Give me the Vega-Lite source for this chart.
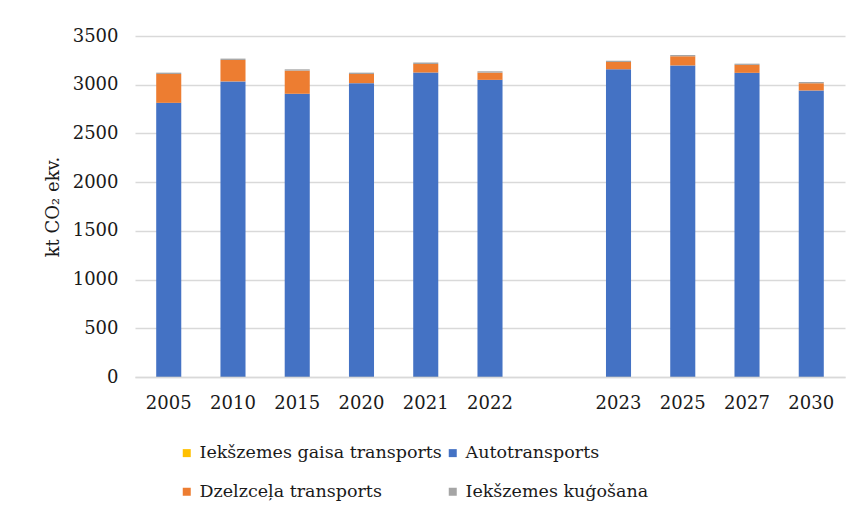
{
  "$schema": "https://vega.github.io/schema/vega-lite/v6.json",
  "width": 710,
  "height": 341,
  "autosize": "none",
  "padding": {"left": 135, "top": 36, "right": 18, "bottom": 138},
  "background": "white",
  "data": {
    "values": [
      {"year": "2005", "series": "Iekšzemes gaisa transports", "ord": 1, "value": 2},
      {"year": "2005", "series": "Autotransports", "ord": 2, "value": 2812},
      {"year": "2005", "series": "Dzelzceļa transports", "ord": 3, "value": 296},
      {"year": "2005", "series": "Iekšzemes kuģošana", "ord": 4, "value": 14},
      {"year": "2010", "series": "Iekšzemes gaisa transports", "ord": 1, "value": 2},
      {"year": "2010", "series": "Autotransports", "ord": 2, "value": 3032},
      {"year": "2010", "series": "Dzelzceļa transports", "ord": 3, "value": 220},
      {"year": "2010", "series": "Iekšzemes kuģošana", "ord": 4, "value": 14},
      {"year": "2015", "series": "Iekšzemes gaisa transports", "ord": 1, "value": 2},
      {"year": "2015", "series": "Autotransports", "ord": 2, "value": 2905},
      {"year": "2015", "series": "Dzelzceļa transports", "ord": 3, "value": 238},
      {"year": "2015", "series": "Iekšzemes kuģošana", "ord": 4, "value": 13},
      {"year": "2020", "series": "Iekšzemes gaisa transports", "ord": 1, "value": 2},
      {"year": "2020", "series": "Autotransports", "ord": 2, "value": 3014},
      {"year": "2020", "series": "Dzelzceļa transports", "ord": 3, "value": 94},
      {"year": "2020", "series": "Iekšzemes kuģošana", "ord": 4, "value": 14},
      {"year": "2021", "series": "Iekšzemes gaisa transports", "ord": 1, "value": 2},
      {"year": "2021", "series": "Autotransports", "ord": 2, "value": 3124},
      {"year": "2021", "series": "Dzelzceļa transports", "ord": 3, "value": 87},
      {"year": "2021", "series": "Iekšzemes kuģošana", "ord": 4, "value": 14},
      {"year": "2022", "series": "Iekšzemes gaisa transports", "ord": 1, "value": 2},
      {"year": "2022", "series": "Autotransports", "ord": 2, "value": 3048},
      {"year": "2022", "series": "Dzelzceļa transports", "ord": 3, "value": 74},
      {"year": "2022", "series": "Iekšzemes kuģošana", "ord": 4, "value": 14},
      {"year": "2023", "series": "Iekšzemes gaisa transports", "ord": 1, "value": 2},
      {"year": "2023", "series": "Autotransports", "ord": 2, "value": 3158},
      {"year": "2023", "series": "Dzelzceļa transports", "ord": 3, "value": 74},
      {"year": "2023", "series": "Iekšzemes kuģošana", "ord": 4, "value": 13},
      {"year": "2025", "series": "Iekšzemes gaisa transports", "ord": 1, "value": 2},
      {"year": "2025", "series": "Autotransports", "ord": 2, "value": 3196},
      {"year": "2025", "series": "Dzelzceļa transports", "ord": 3, "value": 94},
      {"year": "2025", "series": "Iekšzemes kuģošana", "ord": 4, "value": 13},
      {"year": "2027", "series": "Iekšzemes gaisa transports", "ord": 1, "value": 2},
      {"year": "2027", "series": "Autotransports", "ord": 2, "value": 3120},
      {"year": "2027", "series": "Dzelzceļa transports", "ord": 3, "value": 81},
      {"year": "2027", "series": "Iekšzemes kuģošana", "ord": 4, "value": 13},
      {"year": "2030", "series": "Iekšzemes gaisa transports", "ord": 1, "value": 2},
      {"year": "2030", "series": "Autotransports", "ord": 2, "value": 2939},
      {"year": "2030", "series": "Dzelzceļa transports", "ord": 3, "value": 74},
      {"year": "2030", "series": "Iekšzemes kuģošana", "ord": 4, "value": 13}
    ]
  },
  "mark": {"type": "bar"},
  "encoding": {
    "x": {
      "field": "year",
      "type": "nominal",
      "sort": null,
      "scale": {
        "domain": ["2005", "2010", "2015", "2020", "2021", "2022", " ", "2023", "2025", "2027", "2030"],
        "paddingInner": 0.61,
        "paddingOuter": 0.33
      },
      "axis": {
        "title": null,
        "labelAngle": 0,
        "labelFont": "DejaVu Serif",
        "labelFontSize": 18,
        "labelColor": "#1a1a1a",
        "labelPadding": 17,
        "ticks": false,
        "domainColor": "#D9D9D9",
        "domainWidth": 1.3,
        "grid": false
      }
    },
    "y": {
      "field": "value",
      "type": "quantitative",
      "stack": "zero",
      "scale": {"domain": [0, 3500], "nice": false},
      "axis": {
        "title": "kt CO₂ ekv.",
        "titleFont": "DejaVu Serif",
        "titleFontSize": 18,
        "titleFontWeight": "normal",
        "titleColor": "#1a1a1a",
        "titlePadding": 10,
        "values": [0, 500, 1000, 1500, 2000, 2500, 3000, 3500],
        "format": "d",
        "labelFont": "DejaVu Serif",
        "labelFontSize": 18,
        "labelColor": "#1a1a1a",
        "labelPadding": 17,
        "ticks": false,
        "domain": false,
        "gridColor": "#D9D9D9",
        "gridWidth": 1.3
      }
    },
    "color": {
      "field": "series",
      "type": "nominal",
      "scale": {
        "domain": ["Iekšzemes gaisa transports", "Autotransports", "Dzelzceļa transports", "Iekšzemes kuģošana"],
        "range": ["#FFC000", "#4472C4", "#ED7D31", "#A5A5A5"]
      },
      "legend": {
        "title": null,
        "orient": "none",
        "direction": "horizontal",
        "legendX": 43,
        "legendY": 408,
        "columns": 2,
        "columnPadding": 2,
        "rowPadding": 20,
        "symbolType": "square",
        "symbolSize": 64,
        "symbolStrokeWidth": 0,
        "labelFont": "DejaVu Serif",
        "labelFontSize": 17.5,
        "labelColor": "#1a1a1a",
        "labelOffset": 4,
        "labelLimit": 400
      }
    },
    "order": {"field": "ord", "type": "quantitative"}
  },
  "config": {"view": {"stroke": null}}
}
